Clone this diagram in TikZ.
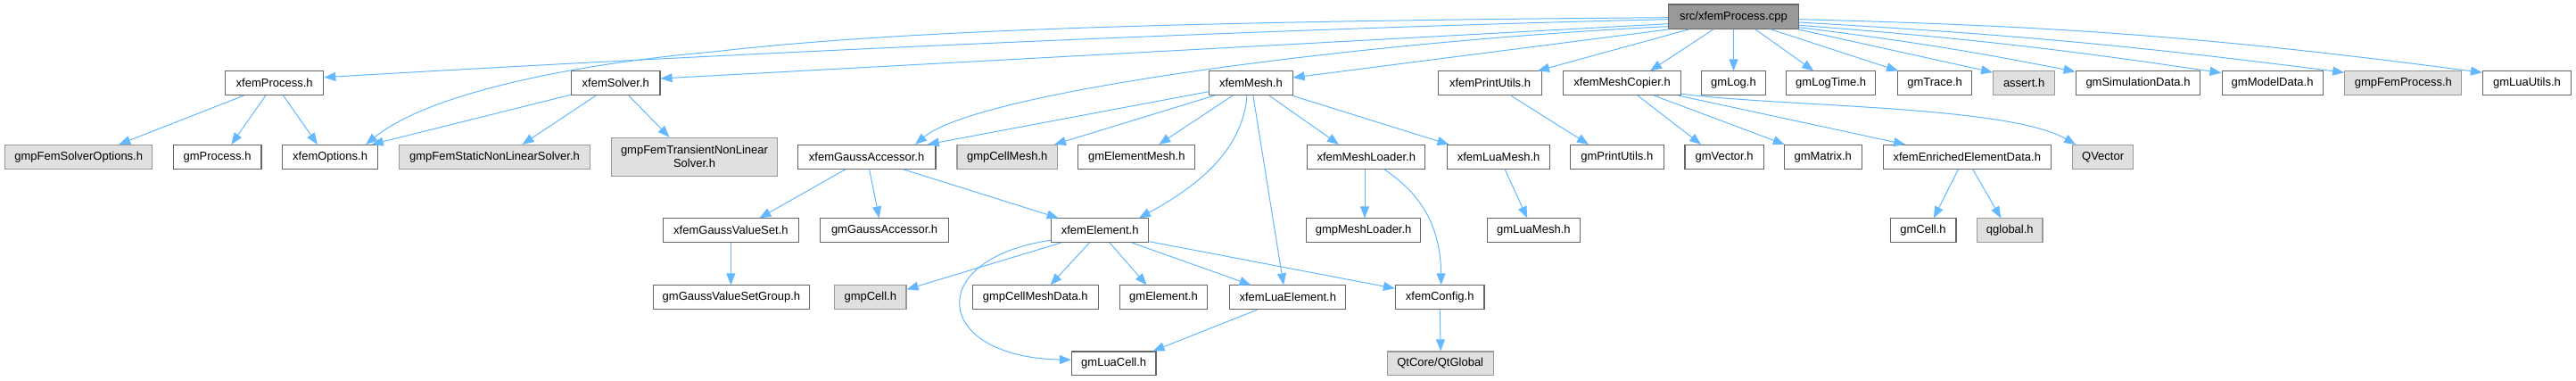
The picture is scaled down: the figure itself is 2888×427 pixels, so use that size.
\documentclass[tikz,border=0pt]{standalone}
\usepackage{fontspec}
\setmainfont{Liberation Sans}
\usetikzlibrary{arrows.meta}
\definecolor{edgeblue}{HTML}{63B8FF}
\definecolor{nodeborder}{HTML}{666666}
\definecolor{extborder}{HTML}{999999}
\definecolor{extfill}{HTML}{E0E0E0}
\definecolor{rootfill}{HTML}{999999}
\begin{document}
\begin{tikzpicture}[x=1pt,y=-1pt,
  box/.style={draw=nodeborder, fill=white, line width=1.1pt, minimum height=26.7pt,
    inner xsep=1pt, inner ysep=0pt, font=\fontsize{13}{15}\selectfont},
  extbox/.style={box, draw=extborder, fill=extfill},
  rootbox/.style={box, fill=rootfill},
  e/.style={draw=edgeblue, line width=1pt, -{Triangle[length=13pt,width=10pt]}}]
\useasboundingbox (0,0) rectangle (2888,427);
% row 1
\node[rootbox, minimum width=145.6pt, minimum height=27.3pt] (root) at (1943.4,18.7) {src/xfemProcess.cpp};
% row 2
\node[box, minimum width=110.2pt] (xproc) at (307.7,93.3) {xfemProcess.h};
\node[box, minimum width=99.4pt] (xsolv) at (690.3,93.3) {xfemSolver.h};
\node[box, minimum width=93.4pt] (xmesh) at (1402.4,93.3) {xfemMesh.h};
\node[box, minimum width=115.7pt] (xprint) at (1670.5,93.3) {xfemPrintUtils.h};
\node[box, minimum width=131.8pt] (xcopier) at (1818.6,93.3) {xfemMeshCopier.h};
\node[box, minimum width=72.1pt] (gmlog) at (1943.5,93.3) {gmLog.h};
\node[box, minimum width=99.6pt] (gmlogtime) at (2052.7,93.3) {gmLogTime.h};
\node[box, minimum width=83pt] (gmtrace) at (2169.1,93.3) {gmTrace.h};
\node[extbox, minimum width=68.9pt] (assert) at (2269.1,93.3) {assert.h};
\node[box, minimum width=139.7pt] (gmsim) at (2397,93.3) {gmSimulationData.h};
\node[box, minimum width=113.1pt] (gmmodel) at (2547.6,93.3) {gmModelData.h};
\node[extbox, minimum width=131.2pt] (gmpfemproc) at (2694.3,93.3) {gmpFemProcess.h};
\node[box, minimum width=99pt] (gmluautils) at (2833,93.3) {gmLuaUtils.h};
% row 3
\node[extbox, minimum width=165.3pt] (gmpsolvopt) at (88.2,175.8) {gmpFemSolverOptions.h};
\node[box, minimum width=98.7pt] (gmproc) at (243.6,175.8) {gmProcess.h};
\node[box, minimum width=106.5pt] (xopts) at (370.1,175.8) {xfemOptions.h};
\node[extbox, minimum width=213.5pt] (gmpstatic) at (554.5,175.8) {gmpFemStaticNonLinearSolver.h};
\node[extbox, minimum width=185.7pt, minimum height=43pt, align=center] (gmptrans) at (778.5,175.8) {gmpFemTransientNonLinear\\Solver.h};
\node[box, minimum width=154.8pt] (xgauss) at (971.6,175.8) {xfemGaussAccessor.h};
\node[extbox, minimum width=112.5pt] (gmpcellmesh) at (1129.2,175.8) {gmpCellMesh.h};
\node[box, minimum width=130.9pt] (gmelemmesh) at (1274.3,175.8) {gmElementMesh.h};
\node[box, minimum width=132.2pt] (xmeshloader) at (1531.8,175.8) {xfemMeshLoader.h};
\node[box, minimum width=114.8pt] (xluamesh) at (1680.1,175.8) {xfemLuaMesh.h};
\node[box, minimum width=104.7pt] (gmprintutils) at (1812.8,175.8) {gmPrintUtils.h};
\node[box, minimum width=88.2pt] (gmvector) at (1933.1,175.8) {gmVector.h};
\node[box, minimum width=87.2pt] (gmmatrix) at (2043.8,175.8) {gmMatrix.h};
\node[box, minimum width=188.5pt] (xenriched) at (2205.3,175.8) {xfemEnrichedElementData.h};
\node[extbox, minimum width=67.8pt] (qvector) at (2357.6,175.8) {QVector};
% row 4
\node[box, minimum width=151.5pt] (xgvs) at (819.4,258.3) {xfemGaussValueSet.h};
\node[box, minimum width=144.2pt] (gmgaussacc) at (991.6,258.3) {gmGaussAccessor.h};
\node[box, minimum width=109.3pt] (xelem) at (1233.2,258.3) {xfemElement.h};
\node[box, minimum width=128.6pt] (gmpmeshloader) at (1528.6,258.3) {gmpMeshLoader.h};
\node[box, minimum width=103.3pt] (gmluamesh) at (1719.4,258.3) {gmLuaMesh.h};
\node[box, minimum width=73.9pt] (gmcell) at (2156,258.3) {gmCell.h};
\node[extbox, minimum width=73.4pt] (qglobal) at (2253.3,258.3) {qglobal.h};
% row 5
\node[box, minimum width=175.4pt] (gmgvsg) at (819.9,333.3) {gmGaussValueSetGroup.h};
\node[extbox, minimum width=80.4pt] (gmpcell) at (975.8,333.3) {gmpCell.h};
\node[box, minimum width=141pt] (gmpcellmeshdata) at (1160.8,333.3) {gmpCellMeshData.h};
\node[box, minimum width=97.8pt] (gmelement) at (1304.5,333.3) {gmElement.h};
\node[box, minimum width=130.1pt] (xluaelem) at (1443.8,333.3) {xfemLuaElement.h};
\node[box, minimum width=99.6pt] (xconfig) at (1614.2,333.3) {xfemConfig.h};
% row 6
\node[box, minimum width=94.6pt] (gmluacell) at (1248.7,407.3) {gmLuaCell.h};
\node[extbox, minimum width=118.9pt] (qtglobal) at (1614.7,407.3) {QtCore/QtGlobal};
% edges from root
\draw[e] ([yshift=-3pt]root.west) .. controls (1500,30) and (900,55) .. ([yshift=6.6pt]xproc.east);
\draw[e] ([yshift=-1pt]root.west) .. controls (1300,24) and (1000,35) .. (800,58) .. controls (640,72) and (480,105) .. ([xshift=40pt]xopts.north);
\draw[e] ([yshift=-8pt]root.west) -- ([yshift=5.3pt]xsolv.east);
\draw[e] ([yshift=-11pt]root.west) .. controls (1550,45) and (1100,100) .. ([xshift=54.4pt]xgauss.north);
\draw[e] ([xshift=1pt]root.south west) -- ([yshift=6.3pt]xmesh.east);
\draw[e] ([xshift=-49.8pt]root.south) -- ([xshift=-5pt]xprint.north east);
\draw[e] ([xshift=-22.4pt]root.south) -- ([xshift=31.4pt]xcopier.north);
\draw[e] (root.south) -- (gmlog.north);
\draw[e] ([xshift=24.6pt]root.south) -- ([xshift=-19.4pt]gmlogtime.north);
\draw[e] ([xshift=42pt]root.south) -- ([xshift=1pt]gmtrace.north west);
\draw[e] ([xshift=-1pt]root.south east) -- ([yshift=-1.7pt]assert.north west);
\draw[e] ([yshift=-12pt]root.east) to[bend left=2] ([yshift=13pt]gmsim.west);
\draw[e] ([yshift=-9.6pt]root.east) to[bend left=2] ([yshift=11.6pt]gmmodel.west);
\draw[e] ([yshift=-6.3pt]root.east) to[bend left=2] ([yshift=12pt]gmpfemproc.west);
\draw[e] ([yshift=-3pt]root.east) to[bend left=3] ([yshift=12pt]gmluautils.west);
% xfemProcess.h
\draw[e] ([xshift=-34.5pt]xproc.south) -- ([xshift=45pt]gmpsolvopt.north);
\draw[e] ([xshift=-10pt]xproc.south) -- ([xshift=15.8pt]gmproc.north);
\draw[e] ([xshift=10pt]xproc.south) -- ([xshift=-14.2pt]xopts.north);
% xfemSolver.h
\draw[e] ([yshift=1pt]xsolv.south west) -- ([xshift=46.6pt]xopts.north);
\draw[e] ([xshift=-22.3pt]xsolv.south) -- ([xshift=31pt]gmpstatic.north);
\draw[e] ([xshift=14.6pt]xsolv.south) -- ([xshift=-28pt]gmptrans.north);
% xfemMesh.h
\draw[e] ([yshift=-9.4pt]xmesh.west) -- ([xshift=68.2pt]xgauss.north);
\draw[e] ([xshift=-41.2pt]xmesh.south) -- ([xshift=52.8pt]gmpcellmesh.north);
\draw[e] ([xshift=-20.5pt]xmesh.south) -- ([xshift=24.9pt]gmelemmesh.north);
\draw[e] ([xshift=-4.4pt]xmesh.south) .. controls (1393,170) and (1340,210) .. ([xshift=-11.5pt]xelem.north east);
\draw[e] ([xshift=2.5pt]xmesh.south) -- ([xshift=-4.8pt]xluaelem.north);
\draw[e] ([xshift=20.6pt]xmesh.south) -- ([xshift=-30.8pt]xmeshloader.north);
\draw[e] ([xshift=-1pt]xmesh.south east) -- ([xshift=2.3pt]xluamesh.north west);
% others row 2
\draw[e] ([xshift=23.4pt]xprint.south) -- ([xshift=-31.8pt]gmprintutils.north);
\draw[e] ([xshift=17.6pt]xcopier.south) -- ([xshift=-26pt]gmvector.north);
\draw[e] ([xshift=36pt]xcopier.south) -- ([xshift=-43pt]gmmatrix.north);
\draw[e] ([xshift=-3pt]xcopier.south east) -- ([xshift=25.5pt]xenriched.north west);
\draw[e] ([yshift=2pt]xcopier.south east) .. controls (2000,120) and (2250,118) .. ([xshift=4pt]qvector.north west);
% row 3 sources
\draw[e] ([xshift=-1.8pt]xmeshloader.south) -- ([xshift=1.4pt]gmpmeshloader.north);
\draw[e] ([xshift=19.7pt]xmeshloader.south) .. controls (1590,215) and (1615,250) .. ([xshift=1.5pt]xconfig.north);
\draw[e] ([xshift=7pt]xluamesh.south) -- ([xshift=-7.2pt]gmluamesh.north);
\draw[e] ([xshift=-23.6pt]xgauss.south) -- ([xshift=32pt]xgvs.north);
\draw[e] ([xshift=3pt]xgauss.south) -- ([xshift=-6pt]gmgaussacc.north);
\draw[e] ([xshift=40.7pt]xgauss.south) -- ([xshift=-46.5pt]xelem.north);
\draw[e] ([xshift=-9.8pt]xenriched.south) -- ([xshift=11.9pt]gmcell.north);
\draw[e] ([xshift=6.3pt]xenriched.south) -- ([xshift=-10pt]qglobal.north);
% row 4 sources
\draw[e] (xgvs.south) -- ([xshift=-0.5pt]gmgvsg.north);
\draw[e] ([xshift=-44pt]xelem.south) -- ([yshift=-5pt]gmpcell.north east);
\draw[e] ([yshift=-11pt]xelem.west) .. controls (1035,290) and (1045,400) .. ([yshift=4pt]gmluacell.west);
\draw[e] ([xshift=-12pt]xelem.south) -- ([xshift=16.8pt]gmpcellmeshdata.north);
\draw[e] ([xshift=11pt]xelem.south) -- ([xshift=-19pt]gmelement.north);
\draw[e] ([xshift=36.2pt]xelem.south) -- ([xshift=-41.2pt]xluaelem.north);
\draw[e] ([yshift=1.5pt]xelem.south east) -- ([yshift=10pt]xconfig.west);
% row 5 sources
\draw[e] ([xshift=-34.3pt]xluaelem.south) -- ([xshift=-4pt]gmluacell.north east);
\draw[e] (xconfig.south) -- ([xshift=0.5pt]qtglobal.north);
\end{tikzpicture}
\end{document}
